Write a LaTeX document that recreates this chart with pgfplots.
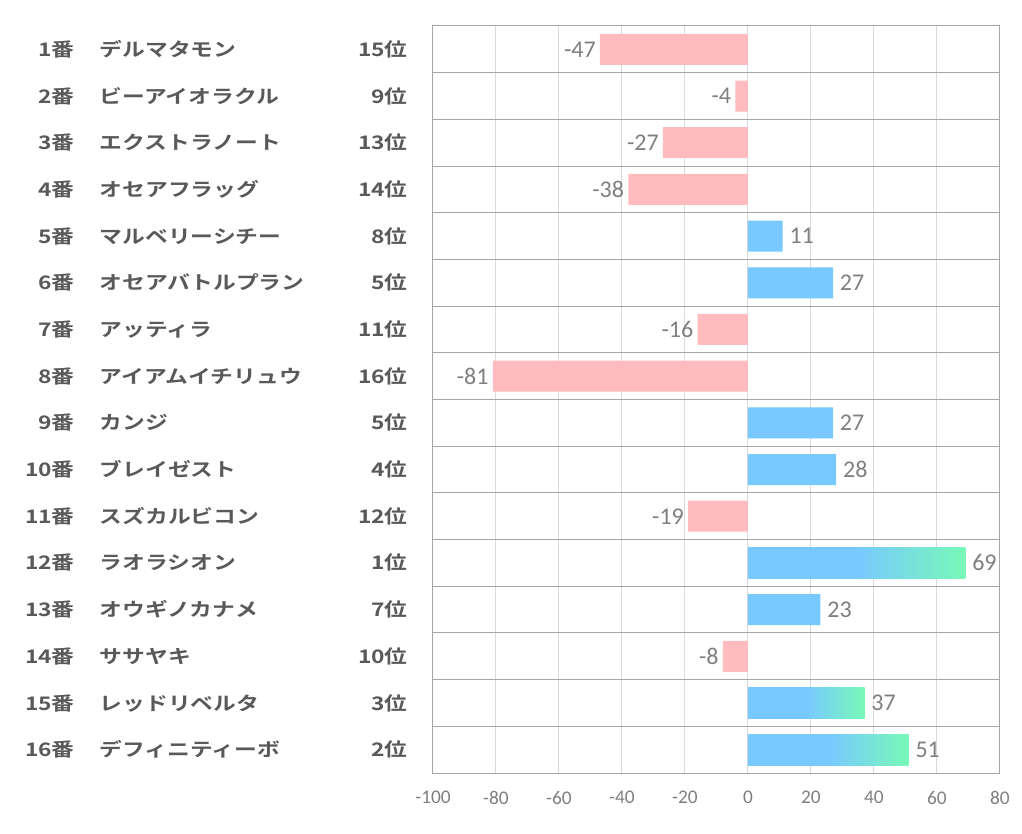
\documentclass[border=0pt]{standalone}
\usepackage{fontspec}
\usepackage{pgfplots}
\pgfplotsset{compat=1.18}
\setmainfont{Carlito}
\newfontfamily\jp[FakeStretch=1.22,BoldFont={Noto Sans CJK JP Bold}]{Noto Sans CJK JP}

\definecolor{lblgray}{HTML}{595959}
\definecolor{valgray}{HTML}{7F7F7F}
\definecolor{pinkbar}{HTML}{FFBBBD}
\definecolor{bluebar}{HTML}{78C9FF}
\definecolor{greenbar}{HTML}{78F9B8}
\definecolor{hgrid}{HTML}{A6A6A6}
\definecolor{vgrid}{HTML}{D9D9D9}

% number | name ... rank
\newcommand{\lab}[3]{\hbox to 45pt{\hfill#1}\hspace{18.75pt}\hbox to 231pt{#2\hfill#3}}

\begin{document}
\begin{tikzpicture}
\begin{axis}[
    name=main,
    scale only axis,
    width=425.25pt, height=560.25pt,
    xbar, bar width=23.25pt, bar shift=0pt,
    xmin=-100, xmax=80,
    ymin=0.5, ymax=16.5,
    y dir=reverse,
    xtick={-100,-80,...,80},
    ytick={1,...,16},
    minor ytick={0.5,1.5,...,16.5},
    yticklabels={
        \lab{1番}{デルマタモン}{15位},
        \lab{2番}{ビーアイオラクル}{9位},
        \lab{3番}{エクストラノート}{13位},
        \lab{4番}{オセアフラッグ}{14位},
        \lab{5番}{マルベリーシチー}{8位},
        \lab{6番}{オセアバトルプラン}{5位},
        \lab{7番}{アッティラ}{11位},
        \lab{8番}{アイアムイチリュウ}{16位},
        \lab{9番}{カンジ}{5位},
        \lab{10番}{ブレイゼスト}{4位},
        \lab{11番}{スズカルビコン}{12位},
        \lab{12番}{ラオラシオン}{1位},
        \lab{13番}{オウギノカナメ}{7位},
        \lab{14番}{ササヤキ}{10位},
        \lab{15番}{レッドリベルタ}{3位},
        \lab{16番}{デフィニティーボ}{2位}},
    yticklabel style={font=\jp\bfseries\fontsize{14pt}{16pt}\selectfont, text=lblgray,
        anchor=east, inner sep=0pt, xshift=-18.75pt},
    xticklabel style={font=\fontsize{14.5pt}{16pt}\selectfont, text=valgray, yshift=-10pt},
    /pgf/number format/assume math mode=true,
    major tick length=0pt, minor tick length=0pt,
    xmajorgrids, yminorgrids,
    major grid style={vgrid, line width=0.75pt},
    minor grid style={hgrid, line width=0.75pt},
    axis line style={hgrid, line width=0.75pt},
    nodes near coords,
    every node near coord/.append style={font=\fontsize{18pt}{20pt}\selectfont, text=valgray},
    gradbar/.style={draw=none, left color=bluebar, right color=greenbar, middle color=bluebar,
        nodes near coords style={anchor=west, inner sep=5pt}},
]
% negative values
\addplot[draw=none, fill=pinkbar, nodes near coords style={anchor=east, inner sep=3pt}]
coordinates {(-47,1) (-4,2) (-27,3) (-38,4) (-16,7) (-81,8) (-19,11) (-8,14)};
% positive values
\addplot[draw=none, fill=bluebar, nodes near coords style={anchor=west, inner sep=5pt}]
coordinates {(11,5) (27,6) (27,9) (28,10) (23,13)};
% positive values with gradient, one bar each so the shading fits each bar
\addplot[gradbar] coordinates {(69,12)};
\addplot[gradbar] coordinates {(37,15)};
\addplot[gradbar] coordinates {(51,16)};
\end{axis}
\path (main.south west) ++(-324.75pt,-45.75pt) rectangle ++(766.5pt,625.5pt);
\end{tikzpicture}
\end{document}
